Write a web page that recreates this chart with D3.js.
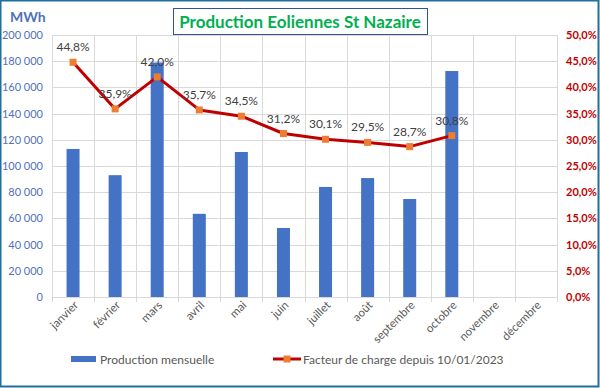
<html>
  <head>
    <meta charset="utf-8">
    <title>Production Eoliennes St Nazaire</title>
    <script src="https://d3js.org/d3.v7.min.js"></script>
    <style>
      body { margin: 0; background: #fff; }
      text { font-family: Lato, "Open Sans", sans-serif; }
    </style>
  </head>
  <body>
    <svg width="600" height="388"></svg>

    <script type="text/javascript">
      var months = ["janvier", "février", "mars", "avril", "mai", "juin", "juillet", "août",
                    "septembre", "octobre", "novembre", "décembre"];
      var production = [113000, 93000, 179000, 63500, 110700, 52700, 84000, 90800, 74800, 172500, null, null];
      var facteur = [44.8, 35.9, 42.0, 35.7, 34.5, 31.2, 30.1, 29.5, 28.7, 30.8, null, null];
      var leftTicks = [0, 20000, 40000, 60000, 80000, 100000, 120000, 140000, 160000, 180000, 200000];
      var rightTicks = [0, 5, 10, 15, 20, 25, 30, 35, 40, 45, 50];

      var margin = {top: 35, right: 43, bottom: 91, left: 52};
      var width = 600 - margin.left - margin.right;
      var height = 388 - margin.top - margin.bottom;

      var svg = d3.select("svg");

      // cadre extérieur
      svg.append("rect")
        .attr("x", 0.5).attr("y", 0.5)
        .attr("width", 598).attr("height", 386)
        .attr("fill", "none")
        .attr("stroke", "#1f6e9e")
        .attr("stroke-width", 2);

      var g = svg.append("g")
        .attr("transform", "translate(" + margin.left + "," + margin.top + ")");

      var xScale = d3.scaleBand().domain(months).range([0, width]);
      var yLeft = d3.scaleLinear().domain([0, 200000]).range([height, 0]);
      var yRight = d3.scaleLinear().domain([0, 50]).range([height, 0]);

      // grille
      g.append("g").selectAll("line")
        .data(leftTicks)
        .enter().append("line")
        .attr("x1", 0).attr("x2", width)
        .attr("y1", d => Math.round(yLeft(d)) + 0.5)
        .attr("y2", d => Math.round(yLeft(d)) + 0.5)
        .attr("stroke", "#d9d9d9");

      g.append("g").selectAll("line")
        .data(months.concat(["fin"]))
        .enter().append("line")
        .attr("x1", (d, i) => Math.round(i * xScale.step()) + 0.5)
        .attr("x2", (d, i) => Math.round(i * xScale.step()) + 0.5)
        .attr("y1", 0).attr("y2", height + 5)
        .attr("stroke", "#d9d9d9");

      // axe gauche
      var fmt = v => d3.format(",")(v).replace(/,/g, " ");
      var yAxisL = d3.axisLeft(yLeft).tickValues(leftTicks).tickSize(0).tickPadding(9).tickFormat(fmt);
      g.append("g").call(yAxisL)
        .call(s => s.select(".domain").remove())
        .selectAll("text")
        .attr("fill", "#4f72b8")
        .style("font-size", "11px");

      // axe droit
      var yAxisR = d3.axisRight(yRight).tickValues(rightTicks).tickSize(0).tickPadding(9)
        .tickFormat(v => d3.format(".1f")(v).replace(".", ",") + "%");
      g.append("g").attr("transform", "translate(" + width + ",0)").call(yAxisR)
        .call(s => s.select(".domain").remove())
        .selectAll("text")
        .attr("fill", "#c00000")
        .style("font-size", "11px")
        .style("font-weight", "bold");

      // axe x
      var xAxis = d3.axisBottom(xScale).tickSize(0).tickPadding(0);
      var xg = g.append("g").attr("transform", "translate(0," + height + ")").call(xAxis);
      xg.select(".domain").attr("stroke", "#d9d9d9");
      xg.selectAll("text")
        .attr("fill", "#595959")
        .style("font-size", "11.5px")
        .attr("text-anchor", "end")
        .attr("dy", "0.35em")
        .attr("transform", "translate(3,6) rotate(-45)");

      // barres
      var barW = 13;
      g.append("g").selectAll("rect")
        .data(production.map((v, i) => [months[i], v]).filter(d => d[1] != null))
        .enter().append("rect")
        .attr("x", d => xScale(d[0]) + xScale.bandwidth() / 2 - barW / 2)
        .attr("y", d => yLeft(d[1]))
        .attr("width", barW)
        .attr("height", d => height - yLeft(d[1]))
        .attr("fill", "#4472c4");

      // courbe
      var pts = facteur.map((v, i) => [months[i], v]).filter(d => d[1] != null);
      var line = d3.line()
        .x(d => xScale(d[0]) + xScale.bandwidth() / 2)
        .y(d => yRight(d[1]));
      g.append("path")
        .datum(pts)
        .attr("d", line)
        .attr("fill", "none")
        .attr("stroke", "#c00000")
        .attr("stroke-width", 3)
        .attr("stroke-linejoin", "round");

      g.append("g").selectAll("rect")
        .data(pts)
        .enter().append("rect")
        .attr("x", d => xScale(d[0]) + xScale.bandwidth() / 2 - 3.5)
        .attr("y", d => yRight(d[1]) - 3.5)
        .attr("width", 7).attr("height", 7)
        .attr("fill", "#ed7d31");

      g.append("g").selectAll("text")
        .data(pts)
        .enter().append("text")
        .attr("x", d => xScale(d[0]) + xScale.bandwidth() / 2)
        .attr("y", d => yRight(d[1]) - 11)
        .attr("text-anchor", "middle")
        .attr("fill", "#404040")
        .style("font-size", "12px")
        .text(d => d3.format(".1f")(d[1]).replace(".", ",") + "%");

      // titre
      svg.append("rect")
        .attr("x", 173.5).attr("y", 8.5)
        .attr("width", 254).attr("height", 26)
        .attr("fill", "#fff")
        .attr("stroke", "#2f5597");
      svg.append("text")
        .attr("x", 300).attr("y", 28)
        .attr("text-anchor", "middle")
        .attr("fill", "#00b050")
        .style("font-size", "17px")
        .style("font-weight", "bold")
        .text("Production Eoliennes St Nazaire");

      svg.append("text")
        .attr("x", 10).attr("y", 22)
        .attr("fill", "#4f72b8")
        .style("font-size", "14px")
        .style("font-weight", "bold")
        .text("MWh");

      // légende
      var leg = svg.append("g");
      leg.append("rect").attr("x", 71).attr("y", 356).attr("width", 25).attr("height", 6).attr("fill", "#4472c4");
      leg.append("text").attr("x", 100).attr("y", 363.5).attr("fill", "#595959").style("font-size", "12px")
        .text("Production mensuelle");
      leg.append("line").attr("x1", 273).attr("x2", 301).attr("y1", 359).attr("y2", 359)
        .attr("stroke", "#c00000").attr("stroke-width", 3);
      leg.append("rect").attr("x", 283.5).attr("y", 355.5).attr("width", 7).attr("height", 7).attr("fill", "#ed7d31");
      leg.append("text").attr("x", 303).attr("y", 363.5).attr("fill", "#595959").style("font-size", "12px")
        .text("Facteur de charge depuis 10/01/2023");
    </script>
  </body>
</html>
